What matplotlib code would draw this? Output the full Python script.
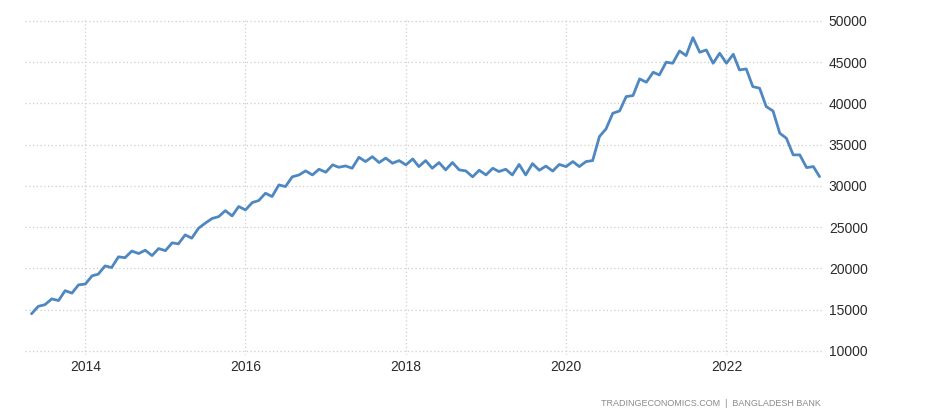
import pandas as pd
import matplotlib
matplotlib.use("Agg")
import matplotlib.pyplot as plt
import matplotlib.dates as mdates

plt.rcParams['font.family'] = ['Liberation Sans', 'DejaVu Sans']

# monthly reserves, May 2013 - Mar 2023 (USD million)
months = pd.date_range('2013-05-01', periods=119, freq='MS')
reserves = [
    14500, 15400, 15600, 16300, 16100, 17300, 17000, 18000,                # 2013
    18100, 19100, 19300, 20300, 20100, 21400, 21300, 22100, 21800, 22200,  # 2014
    21550, 22400,
    22150, 23100, 22970, 24060, 23660, 24870, 25470, 26040, 26280, 27000,  # 2015
    26360, 27500,
    27090, 27980, 28220, 29110, 28710, 30120, 29920, 31100, 31330, 31820,  # 2016
    31330, 32020,
    31660, 32550, 32260, 32420, 32140, 33470, 32950, 33540, 32830, 33370,  # 2017
    32750, 33070,
    32550, 33270, 32340, 33070, 32140, 32830, 31940, 32830, 31940, 31820,  # 2018
    31100, 31900,
    31330, 32140, 31740, 32020, 31330, 32600, 31330, 32700, 31900, 32400,  # 2019
    31800, 32600,
    32340, 32950, 32340, 32950, 33070, 35980, 36910, 38810, 39090, 40830,  # 2020
    40950, 42970,
    42570, 43780, 43450, 45000, 44870, 46360, 45800, 47980, 46200, 46480,  # 2021
    44870, 46080,
    44870, 45960, 44060, 44180, 42040, 41840, 39620, 39090, 36380, 35780,  # 2022
    33760, 33760,
    32220, 32340, 31130,                                                   # 2023
]
y_ticks = [10000, 15000, 20000, 25000, 30000, 35000, 40000, 45000, 50000]
x_years = [2014, 2016, 2018, 2020, 2022]

fig = plt.figure(figsize=(9.25, 4.17), dpi=100)
ax = fig.add_axes([0.027, 0.149, 0.863, 0.808])

ax.plot(months, reserves, color='#4f87c0', linewidth=2.0,
        solid_joinstyle='round', solid_capstyle='round')

ax.set_xlim(pd.Timestamp('2013-04-01'), pd.Timestamp('2023-03-18'))
ax.set_ylim(9515, 50364)

ax.set_xticks([pd.Timestamp(f'{y}-01-01') for y in x_years])
ax.xaxis.set_major_formatter(mdates.DateFormatter('%Y'))
ax.set_yticks(y_ticks)
ax.yaxis.tick_right()

ax.tick_params(axis='both', length=0, labelsize=10, labelcolor='#2b2b2b')
ax.tick_params(axis='y', pad=4)
ax.tick_params(axis='x', pad=4)

ax.grid(True, color='#cfcfcf', linestyle=(0, (1, 2)), linewidth=0.9)
ax.set_axisbelow(True)
for s in ax.spines.values():
    s.set_visible(False)

fig.text(0.887, 0.032, 'TRADINGECONOMICS.COM  |  BANGLADESH BANK',
         ha='right', va='center', fontsize=6.5, color='#8a8a8a')

fig.savefig('out.png', dpi=100)
